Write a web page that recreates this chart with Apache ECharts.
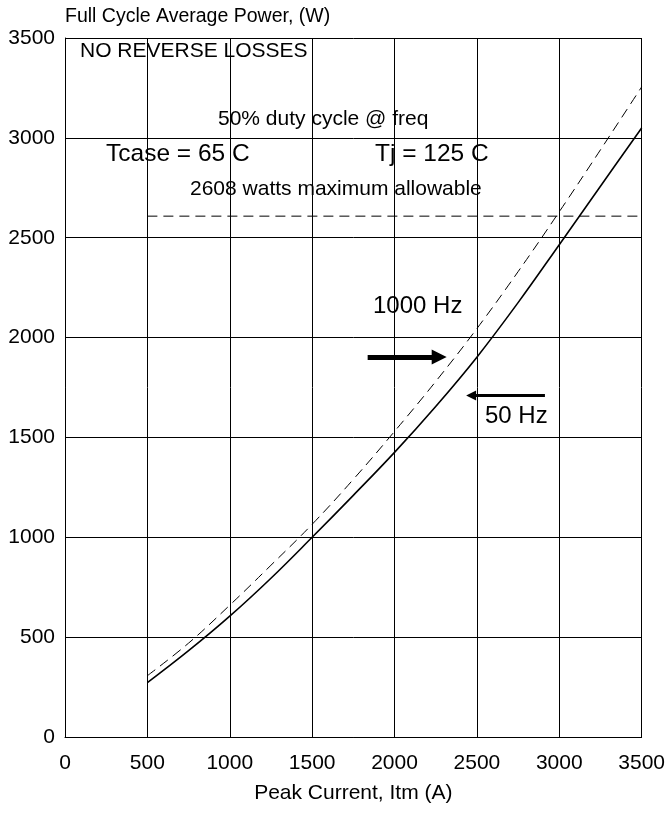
<!DOCTYPE html>
<html>
<head>
<meta charset="utf-8">
<script src="https://cdn.jsdelivr.net/npm/echarts@6/dist/echarts.min.js"></script>
<style>
html,body{margin:0;padding:0;background:#fff;}
#chart{width:668px;height:814px;}
</style>
</head>
<body>
<div id="chart"></div>
<script>
var currents = [500, 750, 1000, 1250, 1500, 1750, 2000, 2250, 2500, 2750, 3000, 3250, 3500];
var power50Hz = [272, 432, 605, 795, 1000, 1210, 1425, 1655, 1902, 2175, 2465, 2758, 3049];
var power1000Hz = [307, 470, 660, 860, 1065, 1290, 1530, 1780, 2045, 2330, 2630, 2940, 3255];
var maxAllowable = 2608;
var limitRange = [500, 3500];
var xTicks = [0, 500, 1000, 1500, 2000, 2500, 3000, 3500];
var yTicks = [0, 500, 1000, 1500, 2000, 2500, 3000, 3500];
var arrow1000 = [[1837, 1903], [2271, 1903]];
var arrow50 = [[2913, 1710], [2465, 1710]];

var FONT = 'Liberation Sans, Arial, Helvetica, sans-serif';
var chart = echarts.init(document.getElementById('chart'), null, {renderer: 'canvas'});

function pairs(xs, ys) { return xs.map(function (x, i) { return [x, ys[i]]; }); }
function plain(v) { return String(v); }

var option = {
  backgroundColor: '#fff',
  animation: false,
  grid: {left: 65, right: 25, top: 38, bottom: 77},
  xAxis: {
    type: 'value', min: xTicks[0], max: xTicks[xTicks.length - 1], interval: 500,
    name: 'Peak Current, Itm (A)', nameLocation: 'middle', nameGap: 46,
    nameTextStyle: {fontFamily: FONT, fontSize: 21, color: '#000'},
    axisLine: {show: true, lineStyle: {color: '#000', width: 1}},
    axisTick: {show: false},
    axisLabel: {fontFamily: FONT, fontSize: 21, color: '#000', margin: 16, formatter: plain},
    splitLine: {show: true, lineStyle: {color: '#000', width: 1}}
  },
  yAxis: {
    type: 'value', min: yTicks[0], max: yTicks[yTicks.length - 1], interval: 500,
    axisLine: {show: true, lineStyle: {color: '#000', width: 1}},
    axisTick: {show: false},
    axisLabel: {fontFamily: FONT, fontSize: 21, color: '#000', margin: 10, formatter: plain},
    splitLine: {show: true, lineStyle: {color: '#000', width: 1}}
  },
  series: [
    {
      name: '50 Hz', type: 'line', smooth: 0.4, symbol: 'none',
      data: pairs(currents, power50Hz),
      lineStyle: {color: '#000', width: 1.6},
      markLine: {
        silent: true, symbol: ['none', 'triangle'], symbolSize: [10, 10],
        label: {show: false},
        lineStyle: {color: '#000', width: 3, type: 'solid'},
        data: [[{coord: arrow50[0]}, {coord: arrow50[1]}]]
      }
    },
    {
      name: '1000 Hz', type: 'line', smooth: 0.4, symbol: 'none',
      data: pairs(currents, power1000Hz),
      lineStyle: {color: '#000', width: 1, type: [10, 6]},
      markLine: {
        silent: true, symbol: ['none', 'triangle'], symbolSize: [15, 15],
        label: {show: false},
        lineStyle: {color: '#000', width: 5, type: 'solid'},
        data: [[{coord: arrow1000[0]}, {coord: arrow1000[1]}]]
      }
    },
    {
      name: 'limit', type: 'line', symbol: 'none',
      data: [[limitRange[0], maxAllowable], [limitRange[1], maxAllowable]],
      lineStyle: {color: '#000', width: 1, type: [10, 6]}
    }
  ],
  graphic: [
    {type: 'text', left: 65, top: 7, style: {text: 'Full Cycle Average Power, (W)', font: '19.5px ' + FONT, fill: '#000'}},
    {type: 'text', left: 80, top: 41, style: {text: 'NO REVERSE LOSSES', font: '21px ' + FONT, fill: '#000'}},
    {type: 'text', left: 218, top: 109, style: {text: '50% duty cycle @ freq', font: '21px ' + FONT, fill: '#000'}},
    {type: 'text', left: 106, top: 142, style: {text: 'Tcase = 65 C', font: '24.5px ' + FONT, fill: '#000'}},
    {type: 'text', left: 375, top: 142, style: {text: 'Tj = 125 C', font: '24.5px ' + FONT, fill: '#000'}},
    {type: 'text', left: 190, top: 179, style: {text: '2608 watts maximum allowable', font: '21px ' + FONT, fill: '#000'}},
    {type: 'text', left: 373, top: 294, style: {text: '1000 Hz', font: '24px ' + FONT, fill: '#000'}},
    {type: 'text', left: 485, top: 404, style: {text: '50 Hz', font: '24px ' + FONT, fill: '#000'}}
  ]
};
chart.setOption(option);
</script>
</body>
</html>
